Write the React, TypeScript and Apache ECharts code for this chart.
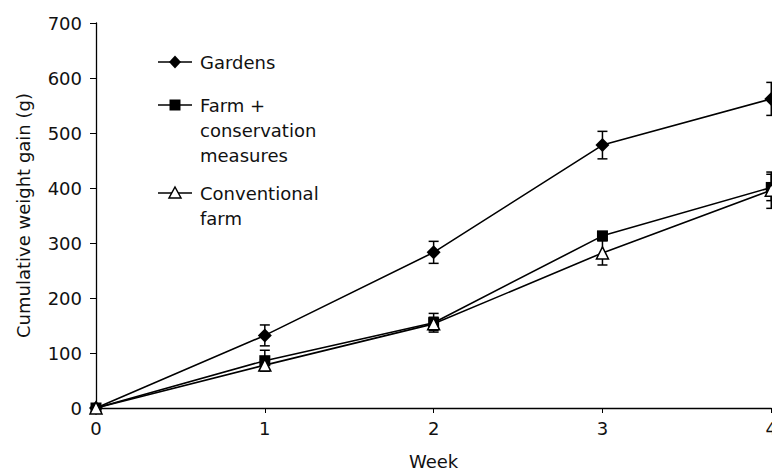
import React, { useEffect, useRef } from "react";
import * as echarts from "echarts";

const weeks = [0, 1, 2, 3, 4];
const gardens = [0, 132, 283, 478, 562];
const gardensErr = [0, 19, 20, 25, 30];
const farm = [0, 86, 155, 313, 401];
const farmErr = [0, 19, 17, 6, 24];
const conventional = [0, 78, 153, 282, 396];
const conventionalErr = [0, 10, 12, 22, 33];
const yTicks = [0, 100, 200, 300, 400, 500, 600, 700];
const xTicks = [0, 1, 2, 3, 4];

const FONT = "DejaVu Sans";
const FS = 18;

const lineSeries = (name: string, vals: number[], symbol: string, size: number, fill: string) => ({
  name,
  type: "line",
  data: weeks.map((w, i) => [w, vals[i]]),
  symbol,
  symbolSize: size,
  showSymbol: true,
  lineStyle: { color: "#000", width: 1.6 },
  itemStyle: { color: fill, borderColor: "#000", borderWidth: fill === "#fff" ? 1.5 : 0 },
  z: 3,
});

const errSeries = (vals: number[], errs: number[]) => ({
  type: "custom",
  data: weeks.map((w, i) => [w, vals[i] - errs[i], vals[i] + errs[i]]).filter((d, i) => errs[i] > 0),
  encode: { x: 0, y: [1, 2] },
  z: 2,
  renderItem: (params: any, api: any) => {
    const x = api.value(0);
    const lo = api.coord([x, api.value(1)]);
    const hi = api.coord([x, api.value(2)]);
    const hw = 5;
    const st = { stroke: "#000", lineWidth: 1.5 };
    return {
      type: "group",
      children: [
        { type: "line", shape: { x1: hi[0], y1: hi[1], x2: lo[0], y2: lo[1] }, style: st },
        { type: "line", shape: { x1: hi[0] - hw, y1: hi[1], x2: hi[0] + hw, y2: hi[1] }, style: st },
        { type: "line", shape: { x1: lo[0] - hw, y1: lo[1], x2: lo[0] + hw, y2: lo[1] }, style: st },
      ],
    };
  },
});

const legendItems = [
  { label: "Gardens", y: 62, sym: "diamond" },
  { label: "Farm +\nconservation\nmeasures", y: 105, sym: "rect" },
  { label: "Conventional\nfarm", y: 193, sym: "triangle" },
];

function legendGraphic() {
  const els: any[] = [];
  legendItems.forEach((it) => {
    const cx = 175;
    const cy = it.y;
    els.push({ type: "line", shape: { x1: 158, y1: cy, x2: 192, y2: cy }, style: { stroke: "#000", lineWidth: 1.6 } });
    if (it.sym === "diamond") {
      els.push({ type: "polygon", shape: { points: [[cx, cy - 6.5], [cx + 6, cy], [cx, cy + 6.5], [cx - 6, cy]] }, style: { fill: "#000" } });
    } else if (it.sym === "rect") {
      els.push({ type: "rect", shape: { x: cx - 5.5, y: cy - 5.5, width: 11, height: 11 }, style: { fill: "#000" } });
    } else {
      els.push({ type: "polygon", shape: { points: [[cx, cy - 6], [cx + 6, cy + 5], [cx - 6, cy + 5]] }, style: { fill: "#fff", stroke: "#000", lineWidth: 1.5 } });
    }
    els.push({
      type: "text",
      x: 200,
      y: cy - 12.5,
      style: { text: it.label, fontFamily: FONT, fontSize: FS, lineHeight: 25, fill: "#111", verticalAlign: "top", align: "left" },
    });
  });
  return els;
}

export default function App() {
  const ref = useRef<HTMLDivElement>(null);
  useEffect(() => {
    if (!ref.current) return;
    const chart = echarts.init(ref.current, undefined, { renderer: "svg" });
    chart.setOption({
      animation: false,
      backgroundColor: "#fff",
      textStyle: { fontFamily: FONT },
      grid: { left: 96, right: 7, top: 23, bottom: 61, containLabel: false },
      xAxis: {
        type: "value",
        min: xTicks[0],
        max: xTicks[xTicks.length - 1],
        interval: 1,
        name: "Week",
        nameLocation: "middle",
        nameGap: 44,
        nameTextStyle: { fontSize: FS, color: "#111", fontFamily: FONT },
        axisLine: { lineStyle: { color: "#000", width: 1.3 } },
        axisTick: { show: true, length: 5, lineStyle: { color: "#000" } },
        axisLabel: { fontSize: FS, color: "#111", margin: 11, fontFamily: FONT },
        splitLine: { show: false },
      },
      yAxis: {
        type: "value",
        min: yTicks[0],
        max: yTicks[yTicks.length - 1],
        interval: 100,
        name: "Cumulative weight gain (g)",
        nameLocation: "middle",
        nameGap: 64,
        nameTextStyle: { fontSize: FS, color: "#111", fontFamily: FONT },
        axisLine: { show: true, lineStyle: { color: "#000", width: 1.3 } },
        axisTick: { show: true, length: 6, lineStyle: { color: "#000" } },
        axisLabel: { fontSize: FS, color: "#111", margin: 14, fontFamily: FONT },
        splitLine: { show: false },
      },
      series: [
        errSeries(gardens, gardensErr),
        errSeries(farm, farmErr),
        errSeries(conventional, conventionalErr),
        lineSeries("Gardens", gardens, "diamond", 14, "#000"),
        lineSeries("Farm + conservation measures", farm, "rect", 11, "#000"),
        lineSeries("Conventional farm", conventional, "triangle", 12, "#fff"),
      ],
      graphic: legendGraphic(),
    });
    return () => chart.dispose();
  }, []);
  return <div ref={ref} style={{ width: 780, height: 475, marginLeft: -8, marginTop: -8 }} />;
}
